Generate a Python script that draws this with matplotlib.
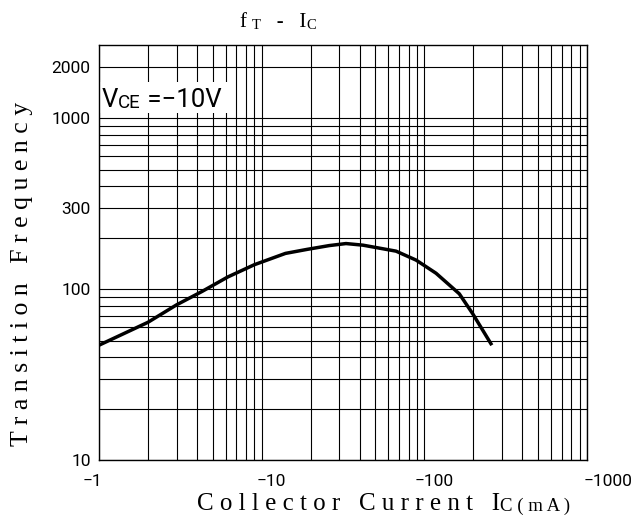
import matplotlib.pyplot as plt
import matplotlib.transforms as mtransforms
from matplotlib.ticker import LogLocator, NullFormatter
from matplotlib.patches import Rectangle

# fT - Ic curve (Ic in -mA, fT in MHz)
ic = [1, 2, 3, 4.3, 6.2, 9, 14, 19, 26, 33, 42, 67, 89, 118, 164, 198, 260]
ft = [47, 64, 81, 97, 118, 139, 162, 171, 180, 185, 181, 167, 148, 124, 94, 72, 47]

x_ticks = [1, 10, 100, 1000]
x_labels = ["\u22121", "\u221210", "\u2212100", "\u22121000"]
y_ticks = [10, 100, 300, 1000, 2000]
y_labels = ["10", "100", "300", "1000", "2000"]

serif = "Liberation Serif"
sans = ["Roboto", "DejaVu Sans"]

fig = plt.figure(figsize=(6.39, 5.24), dpi=100)
ax = fig.add_axes([99/639, 1-460/524, 488/639, 415.3/524])

ax.set_xscale("log")
ax.set_yscale("log")
ax.set_xlim(1, 1000)
ax.set_ylim(10, 2700)

ax.set_xticks(x_ticks, x_labels)
ax.set_yticks(y_ticks, y_labels)
ax.xaxis.set_minor_locator(LogLocator(base=10, subs=range(2, 10)))
ax.yaxis.set_minor_locator(LogLocator(base=10, subs=range(2, 10)))
ax.xaxis.set_minor_formatter(NullFormatter())
ax.yaxis.set_minor_formatter(NullFormatter())
ax.tick_params(which="both", length=0)
ax.tick_params(axis="x", pad=10, labelsize=12.5)
ax.tick_params(axis="y", pad=6, labelsize=12.5)
for lbl in ax.get_xticklabels() + ax.get_yticklabels():
    lbl.set_family(sans)

# the datasheet labels sit a bit off their grid lines
for lbl, dx in zip(ax.get_xticklabels(), [-7, 10, 10, 21]):
    lbl.set_transform(lbl.get_transform() +
                      mtransforms.ScaledTranslation(dx/100, 0, fig.dpi_scale_trans))

ax.grid(which="both", color="black", lw=0.8)
ax.set_axisbelow(True)
for sp in ax.spines.values():
    sp.set_color("black")
    sp.set_linewidth(1.0)

ax.plot(ic, ft, color="black", lw=2.5, solid_capstyle="butt", zorder=3)


def chain(first, pieces, **kw):
    # put text pieces one after the other, on the same bottom line
    prev = first
    for txt, size in pieces:
        prev = ax.annotate(txt, xy=(1, 0), xycoords=prev, va="bottom", ha="left",
                           fontsize=size, annotation_clip=False, **kw)
    return prev


# VCE label with white patch behind it
ax.add_patch(Rectangle((0.002, 0.8355), 0.277, 0.075, transform=ax.transAxes,
                       facecolor="white", edgecolor="none", zorder=2))
v = ax.text(0.006, 0.850, "V", transform=ax.transAxes, fontsize=18.5, family=sans,
            va="baseline", ha="left", zorder=4)
chain(v, [("CE", 13.5), (" =\u221210V", 18.5)], family=sans, zorder=4)

# title fT - IC
t = fig.text(240/639, 1-27/524, "f ", fontsize=15, family=serif, va="baseline")
chain(t, [("T", 10.5), ("   -   I", 15), ("C", 10.5)], family=serif)

# x label
xl = fig.text(197/639, 1-510/524, "C o l l e c t o r   C u r r e n t   I",
              fontsize=18, family=serif, va="baseline")
chain(xl, [("C ( m A )", 13.5)], family=serif)

# y label
fig.text(22/639, 1-274/524, "T r a n s i t i o n   F r e q u e n c y",
         fontsize=18.5, family=serif, rotation=90, ha="center", va="center")

plt.savefig("out.png", dpi=100)
